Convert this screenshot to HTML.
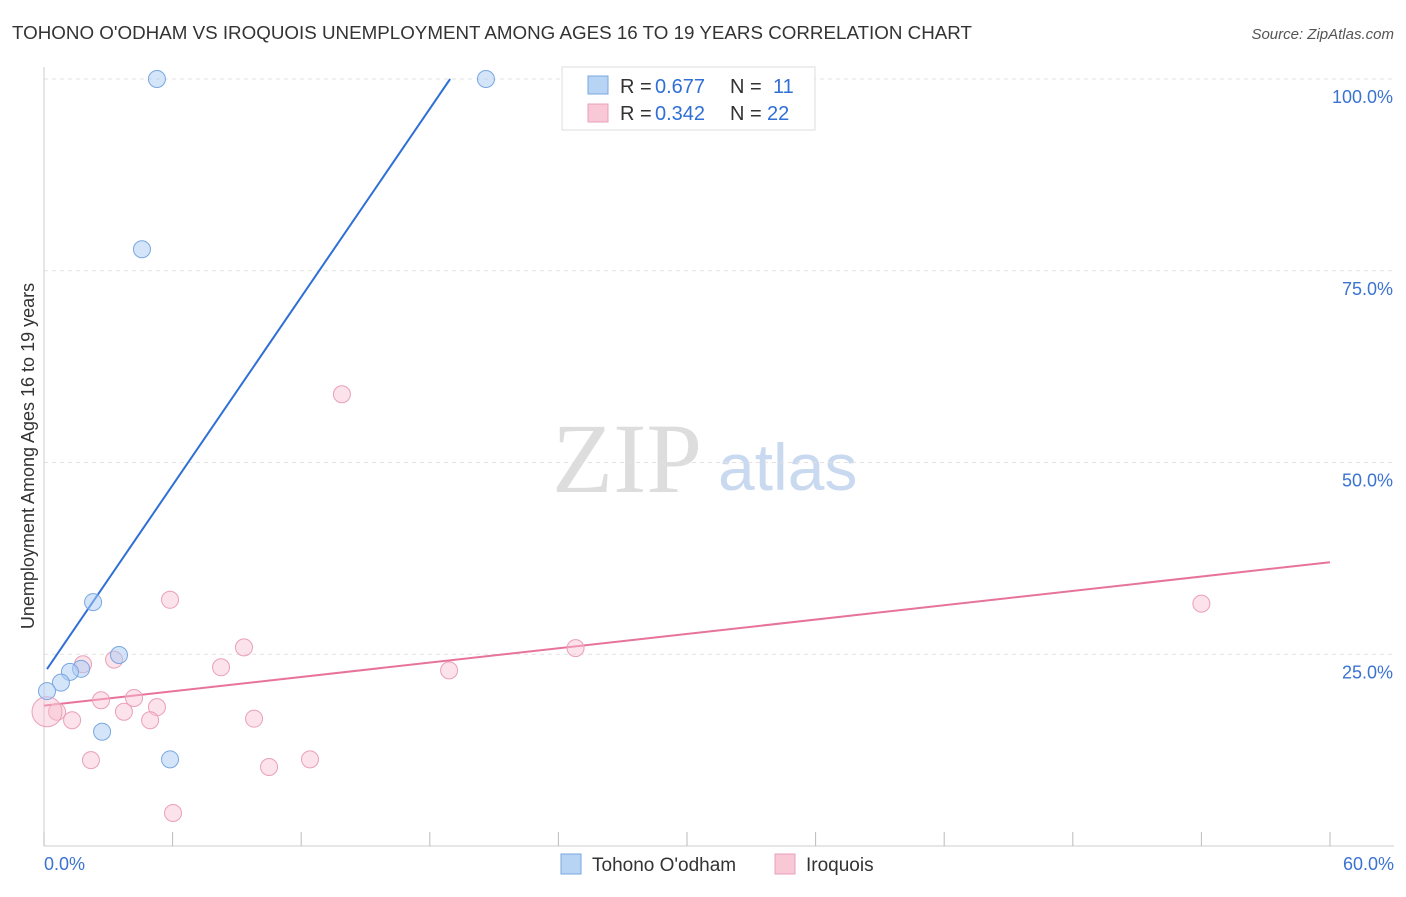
<!DOCTYPE html>
<html><head><meta charset="utf-8"><style>
body{margin:0;background:#fff;font-family:"Liberation Sans",sans-serif;}
</style></head><body>
<svg id="chart" width="1406" height="892" viewBox="0 0 1406 892" font-family="Liberation Sans, sans-serif">
<text x="12" y="39" font-size="18" fill="#333" textLength="960" lengthAdjust="spacingAndGlyphs">TOHONO O'ODHAM VS IROQUOIS UNEMPLOYMENT AMONG AGES 16 TO 19 YEARS CORRELATION CHART</text>
<text x="1394" y="39" font-size="15" fill="#555" font-style="italic" text-anchor="end">Source: ZipAtlas.com</text>
<text x="552" y="492" font-size="100" fill="#ddd" style="font-family:'Liberation Serif',serif">ZIP</text>
<text x="718" y="490" font-size="66" fill="#c9d9f0">atlas</text>
<text transform="translate(34,456) rotate(-90)" font-size="18" fill="#333" text-anchor="middle">Unemployment Among Ages 16 to 19 years</text>
<g id="grid"></g><g id="axes"></g><g id="lines"></g><g id="pts"></g>
<g>
<rect x="562" y="67" width="253" height="63" fill="#fff" stroke="#ddd"/>
<rect x="588" y="76" width="20" height="18" fill="#b8d4f5" stroke="#7aa7e0"/>
<text x="620" y="93" font-size="20" fill="#333">R =</text>
<text x="655" y="93" font-size="20" fill="#2f6fd6">0.677</text>
<text x="730" y="93" font-size="20" fill="#333">N =</text>
<text x="773" y="93" font-size="20" fill="#2f6fd6">11</text>
<rect x="588" y="104" width="20" height="18" fill="#f8c8d6" stroke="#eaa0b8"/>
<text x="620" y="120" font-size="20" fill="#333">R =</text>
<text x="655" y="120" font-size="20" fill="#2f6fd6">0.342</text>
<text x="730" y="120" font-size="20" fill="#333">N =</text>
<text x="767" y="120" font-size="20" fill="#2f6fd6">22</text>
</g>
<g>
<rect x="561" y="854" width="20" height="20" fill="#b8d4f5" stroke="#7aa7e0"/>
<text x="592" y="871" font-size="19" fill="#333">Tohono O'odham</text>
<rect x="775" y="854" width="20" height="20" fill="#f8c8d6" stroke="#eaa0b8"/>
<text x="806" y="871" font-size="19" fill="#333">Iroquois</text>
</g>
</svg>
<script>
const blueX=[5.27,20.62,4.57,2.29,3.50,1.73,1.21,0.79,0.14,2.71,5.88];
const blueY=[100,100,77.8,31.8,24.9,23.1,22.7,21.3,20.2,14.9,11.3];
const pinkX=[13.9,5.88,54.0,9.33,24.8,1.82,3.27,8.26,18.9,4.20,2.66,5.27,3.73,0.61,1.31,4.95,9.80,2.19,12.41,10.50,6.02,0.14];
const pinkY=[58.9,32.1,31.6,25.9,25.8,23.7,24.3,23.3,22.9,19.3,19.0,18.1,17.5,17.5,16.4,16.4,16.6,11.2,11.3,10.3,4.3,17.5];
const blueLine=[22.5,4.09];
const pinkLine=[18.3,37.0];
const yTicks=[25,50,75,100];
const yTickLabels=["25.0%","50.0%","75.0%","100.0%"];
const xTicks=[0,6,12,18,24,30,36,42,48,54,60];
const NS="http://www.w3.org/2000/svg";
const sx=v=>44+v/60*1286, sy=v=>846-v/100*767;
function mk(p,t,a){const e=document.createElementNS(NS,t);for(const k in a)e.setAttribute(k,a[k]);document.getElementById(p).appendChild(e);return e;}
yTicks.forEach((t,i)=>{
 const l=mk('grid','line',{x1:44,x2:1394,y1:sy(t),y2:sy(t),stroke:'#e2e2e2','stroke-dasharray':'4,4'});
 
 
 const tx=mk('grid','text',{x:1393,y:sy(t)+24,'font-size':18,fill:'#3b73d1','text-anchor':'end'});
 tx.textContent=yTickLabels[i];
 
 
});
const ax=mk('axes','line',{x1:44,x2:1394,y1:846,y2:846,stroke:'#ccc'});


const ay=mk('axes','line',{x1:44,x2:44,y1:67,y2:846,stroke:'#ccc'});


xTicks.forEach(t=>{
 const l=mk('axes','line',{x1:sx(t),x2:sx(t),y1:832,y2:846,stroke:'#bbb'});
 
 
});
const x0=mk('axes','text',{x:44,y:870,'font-size':18,fill:'#3b73d1'});x0.textContent='0.0%';


const x1=mk('axes','text',{x:1394,y:870,'font-size':18,fill:'#3b73d1','text-anchor':'end'});x1.textContent='60.0%';


const bxEnd=(100-blueLine[0])/blueLine[1];
const bl=mk('lines','line',{x1:sx(0.14),y1:sy(blueLine[0]+blueLine[1]*0.14),x2:sx(bxEnd),y2:sy(100),stroke:'#2f6fd6','stroke-width':2});


const pl=mk('lines','line',{x1:sx(0),y1:sy(pinkLine[0]),x2:sx(60),y2:sy(pinkLine[1]),stroke:'#e8739a','stroke-width':2});


pinkX.forEach((x,i)=>{
 const c=mk('pts','circle',{cx:sx(x),cy:sy(pinkY[i]),r:i==pinkX.length-1?15:8.5,fill:'rgba(248,190,208,0.45)',stroke:'#eaa0b8'});
 
 
});
blueX.forEach((x,i)=>{
 const c=mk('pts','circle',{cx:sx(x),cy:sy(blueY[i]),r:8.5,fill:'rgba(170,204,245,0.5)',stroke:'#7aa7e0'});
 
 
});
</script>
</body></html>
